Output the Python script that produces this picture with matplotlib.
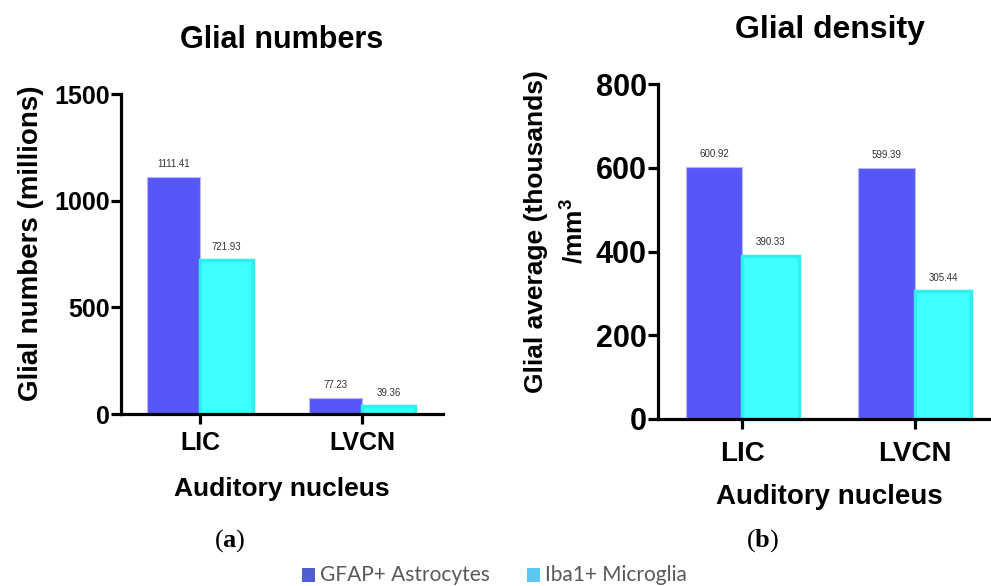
import matplotlib
matplotlib.use("Agg")
import matplotlib.pyplot as plt
from matplotlib.patches import Rectangle

plt.rcParams['font.family'] = ['Liberation Sans', 'DejaVu Sans']
plt.rcParams['mathtext.fontset'] = 'custom'
plt.rcParams['mathtext.rm'] = 'Liberation Serif'
plt.rcParams['mathtext.bf'] = 'Liberation Serif:bold'
plt.rcParams['mathtext.sf'] = 'Liberation Sans:bold'

nuclei = ['LIC', 'LVCN']
astro_numbers = [1111.41, 77.23]
micro_numbers = [721.93, 39.36]
astro_density = [600.92, 599.39]
micro_density = [390.33, 305.44]

blue = '#5757F8'
cyan = '#40FFFF'
W, H = 991, 586

fig = plt.figure(figsize=(W / 100, H / 100), dpi=100)


def px_axes(x0, y0, x1, y1):
    # pixel box (top-left origin) -> figure fraction
    return fig.add_axes([x0 / W, 1 - y1 / H, (x1 - x0) / W, (y1 - y0) / H])


def draw_panel(ax, a_vals, m_vals, ymax, ystep, ytick_size, xtick_size, xpad):
    bw = 0.327
    xs = range(len(nuclei))
    for i in xs:
        ax.bar(i - bw / 2, a_vals[i], bw, color=blue, edgecolor='#B8B8FF', linewidth=0.8, zorder=2)
        ax.bar(i + bw / 2, m_vals[i], bw, color=cyan, edgecolor='#2EEFEF', linewidth=2.5, zorder=2)
        ax.text(i - bw / 2, a_vals[i] + ymax * 0.025, f'{a_vals[i]:.2f}', ha='center', va='bottom',
                fontsize=7, color='#333333')
        ax.text(i + bw / 2, m_vals[i] + ymax * 0.025, f'{m_vals[i]:.2f}', ha='center', va='bottom',
                fontsize=7, color='#333333')
    ax.set_ylim(0, ymax)
    ax.set_xlim(-0.49, 1.5)
    ax.set_yticks(range(0, ymax + 1, ystep))
    ax.set_xticks(list(xs))
    ax.set_xticklabels(nuclei)
    for s in ['top', 'right']:
        ax.spines[s].set_visible(False)
    for s in ['left', 'bottom']:
        ax.spines[s].set_linewidth(2.3)
    ax.tick_params(axis='both', width=2.3, length=7, direction='out')
    ax.tick_params(axis='y', labelsize=ytick_size, pad=1)
    ax.tick_params(axis='x', labelsize=xtick_size, pad=xpad)
    for lab in ax.get_xticklabels() + ax.get_yticklabels():
        lab.set_fontweight('bold')


# (a) glial numbers
ax1 = px_axes(121, 94, 443, 414)
draw_panel(ax1, astro_numbers, micro_numbers, 1500, 500, 18, 18, 5)
ax1.set_ylabel('Glial numbers (millions)', fontsize=20, fontweight='bold')
ax1.yaxis.set_label_coords(-0.238, 0.535)
ax1.set_xlabel('Auditory nucleus', fontsize=19, fontweight='bold', labelpad=16)
ax1.set_title('Glial numbers', fontsize=22, fontweight='bold', pad=33)

# (b) glial density
ax2 = px_axes(658, 84, 1001, 419)
draw_panel(ax2, astro_density, micro_density, 800, 200, 22, 20, 9)
ax2.set_ylabel('Glial average (thousands)\n/mm$^{\\mathsf{3}}$', fontsize=19, fontweight='bold',
               ha='center', linespacing=1.45)
ax2.yaxis.set_label_coords(-0.208, 0.56)
ax2.set_xlabel('Auditory nucleus', fontsize=20, fontweight='bold', labelpad=12)
ax2.set_title('Glial density', fontsize=23, fontweight='bold', pad=33)

# panel letters
fig.text(230 / W, 1 - 541 / H, r'($\mathbf{a}$)', fontsize=19, family='Liberation Serif',
         ha='center', va='center')
fig.text(763 / W, 1 - 541 / H, r'($\mathbf{b}$)', fontsize=19, family='Liberation Serif',
         ha='center', va='center')

# shared legend along the bottom
legend_items = [('GFAP+ Astrocytes', '#4F5FD3', 302), ('Iba1+ Microglia', '#5AC8F2', 527)]
for label, col, x0 in legend_items:
    fig.patches.append(Rectangle((x0 / W, 1 - 582 / H), 13 / W, 14 / H, transform=fig.transFigure,
                                 facecolor=col, edgecolor='none'))
    fig.text((x0 + 18) / W, 1 - 575 / H, label, fontsize=15, color='#595959', family='Lato',
             ha='left', va='center')

fig.savefig('out.png', dpi=100)
